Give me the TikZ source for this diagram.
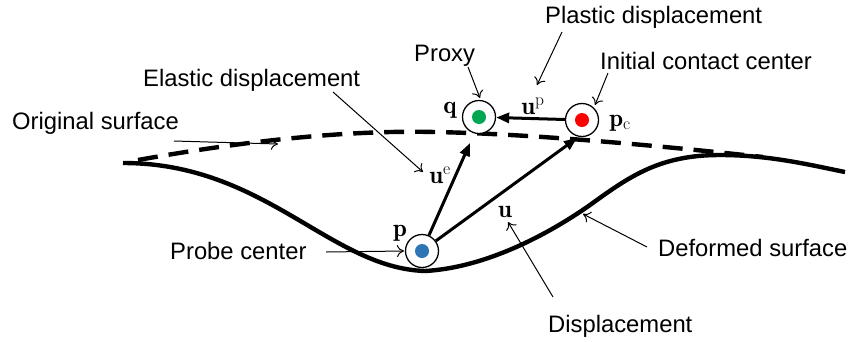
\documentclass[tikz,border=0pt]{standalone}
\usepackage{fontspec}
\newfontfamily\labelfont{Liberation Sans}
\usetikzlibrary{arrows.meta}
\definecolor{dotgreen}{RGB}{0,166,81}
\definecolor{dotred}{RGB}{255,0,0}
\definecolor{dotblue}{RGB}{46,117,182}
\tikzset{
  ring/.style={circle, draw, line width=1.3pt, minimum size=33pt, inner sep=0pt, fill=white},
  caption/.style={font=\labelfont\fontsize{23.8}{28}\selectfont, anchor=base west, inner sep=0pt},
  sym/.style={font=\fontsize{25}{28}\selectfont, inner sep=0pt},
  vec/.style={line width=3pt, -{Triangle[length=13pt,width=10pt]}},
  pointer/.style={line width=1pt, -{To[length=7pt,width=12pt]}},
  surface/.style={line width=4.4pt},
}
\begin{document}
\begin{tikzpicture}[x=1pt,y=-1pt]
\useasboundingbox (0,0) rectangle (849,341);

% original (undeformed) surface
\draw[surface, dash pattern=on 20pt off 11pt]
  (138,160) .. controls (250,140) and (350,130) .. (435,132)
            .. controls (540,134) and (680,148) .. (763,157);
% deformed surface
\draw[surface]
  (123,163) .. controls (265,163) and (330,268) .. (425,271)
            .. controls (480,268) and (540,240) .. (590,205)
            .. controls (630,176) and (660,155) .. (720,155)
            .. controls (770,155) and (810,165) .. (845,172);

% probe, proxy and initial contact center
\node[ring] (q)  at (479,117) {};
\node[ring] (pc) at (582,120) {};
\node[ring] (p)  at (422,251) {};
\fill[dotgreen] (q)  circle (7pt);
\fill[dotred]   (pc) circle (7pt);
\fill[dotblue]  (p)  circle (7pt);

% displacement vectors
\coordinate (ueend) at (470,143);
\coordinate (uend)  at (577,138);
\draw[vec] (p) -- (ueend);
\draw[vec] (p) -- (uend);
\draw[vec] (pc) -- (q);

% symbols
\node[sym] (lq)  at (450,110) {$\mathbf{q}$};
\node[sym] (lpc) at (620,123) {$\mathbf{p}_{\mathrm{c}}$};
\node[sym] (lp)  at (400,233) {$\mathbf{p}$};
\node[sym] (lup) at (533,106) {$\mathbf{u}^{\mathrm{p}}$};
\node[sym] (lue) at (440,175) {$\mathbf{u}^{\mathrm{e}}$};
\node[sym] (lu)  at (505,212) {$\mathbf{u}$};

% captions
\node[caption] (tplastic)  at (545,23)  {Plastic displacement};
\node[caption] (tproxy)    at (414,61)  {Proxy};
\node[caption] (tinitial)  at (600,69)  {Initial contact center};
\node[caption] (telastic)  at (143,86)  {Elastic displacement};
\node[caption] (toriginal) at (12,129)  {Original surface};
\node[caption] (tprobe)    at (170,259) {Probe center};
\node[caption] (tdeformed) at (658,256) {Deformed surface};
\node[caption] (tdisp)     at (548,332) {Displacement};

% pointer lines
\coordinate (a1) at (174,141); \coordinate (b1) at (278,144);
\coordinate (a2) at (333,92);  \coordinate (b2) at (423,172);
\coordinate (a3) at (326,252); \coordinate (b3) at (404,251);
\coordinate (a4) at (468,67);  \coordinate (b4) at (480,98);
\coordinate (a5) at (562,32);  \coordinate (b5) at (537,85);
\coordinate (a6) at (608,73);  \coordinate (b6) at (595,105);
\coordinate (a7) at (647,247); \coordinate (b7) at (583,214);
\coordinate (a8) at (553,297); \coordinate (b8) at (508,222);
\draw[pointer] (a1) -- (b1);
\draw[pointer] (a2) -- (b2);
\draw[pointer] (a3) -- (b3);
\draw[pointer] (a4) -- (b4);
\draw[pointer] (a5) -- (b5);
\draw[pointer] (a6) -- (b6);
\draw[pointer] (a7) -- (b7);
\draw[pointer] (a8) -- (b8);
\end{tikzpicture}
\end{document}
